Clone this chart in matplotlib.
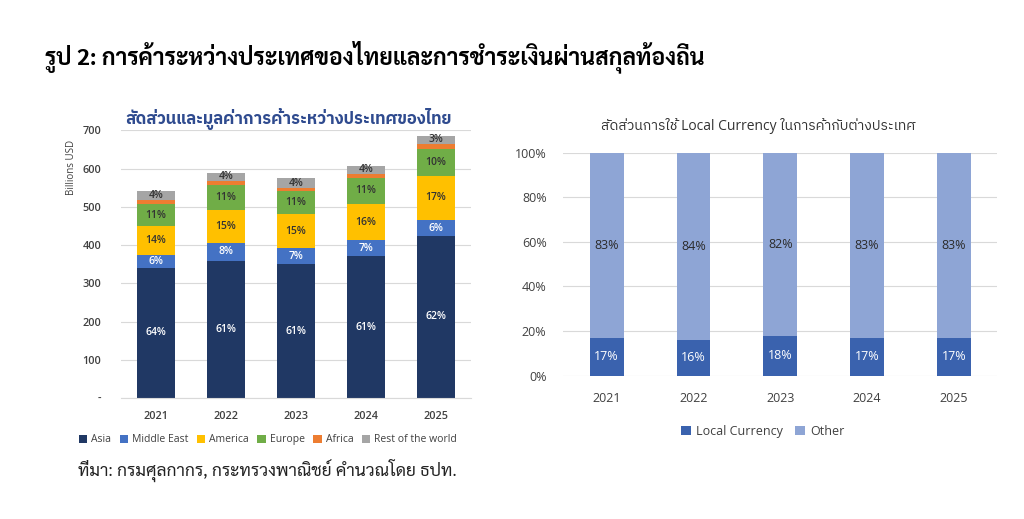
import numpy as np
import matplotlib
matplotlib.use("Agg")
import matplotlib.pyplot as plt
from matplotlib import font_manager

# ---- data ----
years = ["2021", "2022", "2023", "2024", "2025"]

regions = ["Asia", "Middle East", "America", "Europe", "Africa", "Rest of the world"]
asia = [341, 358, 350, 371, 424]
middle_east = [33, 48, 41, 41, 41]
america = [75, 85, 89, 96, 116]
europe = [57, 65, 60, 67, 71]
africa = [13, 12, 10, 11, 12]
rest_world = [22, 21, 24, 21, 22]

asia_lbl = ["64%", "61%", "61%", "61%", "62%"]
me_lbl = ["6%", "8%", "7%", "7%", "6%"]
america_lbl = ["14%", "15%", "15%", "16%", "17%"]
europe_lbl = ["11%", "11%", "11%", "11%", "10%"]
africa_lbl = ["", "", "", "", ""]
rest_lbl = ["4%", "4%", "4%", "4%", "3%"]

local_ccy = [17, 16, 18, 17, 17]
other_ccy = [83, 84, 82, 83, 83]

title = "รูป 2: การค้าระหว่างประเทศของไทยและการชำระเงินผ่านสกุลท้องถิ่น"
left_title = "สัดส่วนและมูลค่าการค้าระหว่างประเทศของไทย"
right_title = "สัดส่วนการใช้ Local Currency ในการค้ากับต่างประเทศ"
source = "ที่มา: กรมศุลกากร, กระทรวงพาณิชย์ คำนวณโดย ธปท."

installed = {f.name for f in font_manager.fontManager.ttflist}


def pick(*names):
    for n in names:
        if n in installed:
            return n
    return "DejaVu Sans"


thai_looped = pick("Sarabun", "IBM Plex Sans Thai Looped", "Loma", "Noto Sans Thai Looped")
thai_plain = pick("IBM Plex Sans Thai", "Noto Sans Thai", "Kanit")
chart_fonts = ["Open Sans", thai_plain, "DejaVu Sans"]
plt.rcParams["font.family"] = chart_fonts

colors = ["#203864", "#4472C4", "#FFC000", "#70AD47", "#ED7D31", "#A5A5A5"]
txt_colors = ["white", "white", "#333333", "#333333", "#333333", "#333333"]

fig = plt.figure(figsize=(10.24, 5.19), dpi=100)
fig.text(0.044, 0.89, title, fontsize=16.5, fontweight="bold", color="black",
         va="center", ha="left", family=[thai_looped, "DejaVu Sans"])

# ---- left chart ----
ax1 = fig.add_axes([0.118, 0.233, 0.342, 0.516])
x = np.arange(len(years))
series = [asia, middle_east, america, europe, africa, rest_world]
labels = [asia_lbl, me_lbl, america_lbl, europe_lbl, africa_lbl, rest_lbl]
bottom = np.zeros(len(years))
for vals, lbls, c, tc, name in zip(series, labels, colors, txt_colors, regions):
    vals = np.array(vals, dtype=float)
    ax1.bar(x, vals, 0.54, bottom=bottom, color=c, label=name, zorder=2)
    for xi, b, v, l in zip(x, bottom, vals, lbls):
        if l:
            ax1.text(xi, b + v / 2, l, ha="center", va="center", fontsize=7.5,
                     color=tc, fontweight="semibold", zorder=3)
    bottom += vals

ax1.set_xlim(-0.5, 4.5)
ax1.set_ylim(0, 700)
ax1.set_yticks(range(0, 701, 100))
ax1.set_yticklabels(["-"] + [str(v) for v in range(100, 701, 100)])
ax1.set_xticks(x)
ax1.set_xticklabels(years)
ax1.grid(axis="y", color="#D9D9D9", linewidth=0.8, zorder=0)
for s in ["top", "right", "left"]:
    ax1.spines[s].set_visible(False)
ax1.spines["bottom"].set_color("#D9D9D9")
ax1.tick_params(axis="both", length=0, labelsize=7.8, colors="#404040", pad=9)
ax1.tick_params(axis="y", pad=14)
for lbl in ax1.get_xticklabels() + ax1.get_yticklabels():
    lbl.set_fontweight("semibold")
ax1.set_ylabel("Billions USD", fontsize=7, color="#404040")
ax1.yaxis.set_label_coords(-0.125, 0.86)
ax1.set_title(left_title, fontsize=12, fontweight="bold", color="#2F4B8F", pad=2,
              x=0.48)
ax1.legend(loc="upper center", bbox_to_anchor=(0.42, -0.1), ncol=6, frameon=False,
           fontsize=7.5, handlelength=0.8, handleheight=0.8, handletextpad=0.4,
           columnspacing=0.8, labelcolor="#404040")

fig.text(0.076, 0.094, source, fontsize=12.5, color="#222222", ha="left", va="center",
         family=[thai_looped, "DejaVu Sans"])

# ---- right chart ----
ax2 = fig.add_axes([0.55, 0.276, 0.424, 0.43])
ax2.bar(x, local_ccy, 0.39, color="#3A62AE", label="Local Currency", zorder=2)
ax2.bar(x, other_ccy, 0.39, bottom=local_ccy, color="#8EA5D5", label="Other", zorder=2)
for xi, lv, ov in zip(x, local_ccy, other_ccy):
    ax2.text(xi, lv / 2, f"{lv}%", ha="center", va="center", fontsize=9, color="white", zorder=3)
    ax2.text(xi, lv + ov / 2, f"{ov}%", ha="center", va="center", fontsize=9,
             color="#2B2B2B", zorder=3)
ax2.set_xlim(-0.5, 4.5)
ax2.set_ylim(0, 100)
ax2.set_yticks(range(0, 101, 20))
ax2.set_yticklabels([f"{v}%" for v in range(0, 101, 20)])
ax2.set_xticks(x)
ax2.set_xticklabels(years)
ax2.grid(axis="y", color="#D9D9D9", linewidth=0.8, zorder=0)
for s in ax2.spines.values():
    s.set_visible(False)
ax2.tick_params(axis="both", length=0, labelsize=9, colors="#404040")
ax2.tick_params(axis="x", pad=12)
ax2.tick_params(axis="y", pad=12)
ax2.set_title(right_title, fontsize=10, color="#333333", pad=16, x=0.45)
ax2.legend(loc="upper center", bbox_to_anchor=(0.46, -0.17), ncol=2, frameon=False,
           fontsize=9, handlelength=0.8, handleheight=0.8, handletextpad=0.4,
           columnspacing=1.0, labelcolor="#404040")

fig.savefig("out.png", dpi=100)
